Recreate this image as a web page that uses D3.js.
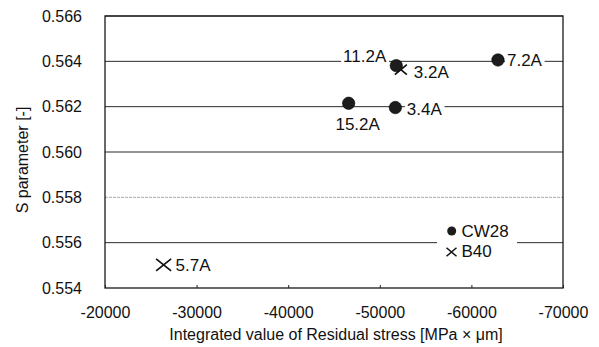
<!DOCTYPE html>
<html>
<head>
<meta charset="utf-8">
<script src="https://cdn.jsdelivr.net/npm/d3@7"></script>
<style>
  body { margin: 0; background: #fff; }
  text { font-family: "Liberation Sans", Arial, sans-serif; fill: #111; }
</style>
</head>
<body>
<svg id="chart" width="599" height="347"></svg>
<script>
// CW28 samples (filled circles)
const cw28Labels = ["11.2A", "7.2A", "15.2A", "3.4A"];
const cw28X = [-51800, -62900, -46600, -51700];
const cw28Y = [0.56381, 0.56406, 0.56215, 0.56196];

// B40 samples (crosses)
const b40Labels = ["3.2A", "5.7A"];
const b40X = [-52300, -26400];
const b40Y = [0.56363, 0.55502];

const xTicks = [-20000, -30000, -40000, -50000, -60000, -70000];
const yTicks = [0.554, 0.556, 0.558, 0.560, 0.562, 0.564, 0.566];

const FONT = "Liberation Sans, Arial, sans-serif";
const svg = d3.select("#chart");
const margin = { left: 105, right: 36, top: 16, bottom: 59 };
const W = 599, H = 347;
const x = d3.scaleLinear().domain([-20000, -70000]).range([margin.left, W - margin.right]);
const y = d3.scaleLinear().domain([0.554, 0.566]).range([H - margin.bottom, margin.top]);

// horizontal gridlines
const isLight = d => Math.abs(d - 0.558) < 1e-9;
svg.append("g").selectAll("line").data(yTicks.slice(1)).join("line")
  .attr("x1", x(-20000)).attr("x2", x(-70000))
  .attr("y1", d => y(d)).attr("y2", d => y(d))
  .attr("stroke", d => isLight(d) ? "#aaa" : "#2a2a2a")
  .attr("stroke-width", 1)
  .attr("stroke-dasharray", d => isLight(d) ? "3,1" : null);

// plot frame
svg.append("rect")
  .attr("x", x(-20000)).attr("y", y(0.566))
  .attr("width", x(-70000) - x(-20000)).attr("height", y(0.554) - y(0.566))
  .attr("fill", "none").attr("stroke", "#1a1a1a").attr("stroke-width", 1.3);

// axes
const xAxis = d3.axisBottom(x).tickValues(xTicks).tickSize(-3).tickPadding(19).tickFormat(d => String(d));
const gx = svg.append("g").attr("transform", `translate(0,${y(0.554)})`).call(xAxis);
gx.select(".domain").remove();
gx.selectAll("line").attr("stroke", "#222");
gx.selectAll("text").attr("font-size", 16).style("font-family", FONT).attr("fill", "#111");

const yAxis = d3.axisLeft(y).tickValues(yTicks).tickSize(0).tickPadding(23).tickFormat(d3.format(".3f"));
const gy = svg.append("g").attr("transform", `translate(${x(-20000)},0)`).call(yAxis);
gy.select(".domain").remove();
gy.selectAll("text").attr("font-size", 16).style("font-family", FONT).attr("fill", "#111");

// axis titles
svg.append("text").attr("x", 336).attr("y", 340).attr("text-anchor", "middle")
  .attr("font-size", 16).text("Integrated value of Residual stress [MPa × μm]");
svg.append("text").attr("transform", "translate(28,160) rotate(-90)").attr("text-anchor", "middle")
  .attr("font-size", 16).text("S parameter [-]");

// point labels with white backing over gridlines
const labelPos = {
  "11.2A": { dx: -10, dy: -4, anchor: "end" },
  "7.2A":  { dx: 9, dy: 6.5, anchor: "start" },
  "15.2A": { dx: 9, dy: 27, anchor: "middle" },
  "3.4A":  { dx: 11.5, dy: 7, anchor: "start" },
  "3.2A":  { dx: 13, dy: 8, anchor: "start" },
  "5.7A":  { dx: 12, dy: 6, anchor: "start" }
};
function addLabel(name, px, py) {
  const p = labelPos[name];
  const t = svg.append("text").attr("x", px + p.dx).attr("y", py + p.dy)
    .attr("text-anchor", p.anchor).attr("font-size", 17).text(name);
  const b = t.node().getBBox();
  svg.insert("rect", function () { return t.node(); })
    .attr("x", b.x - 2).attr("y", b.y + 2).attr("width", b.width + 4).attr("height", b.height - 4)
    .attr("fill", "#fff");
}

const cw = cw28X.map((v, i) => ({ x: v, y: cw28Y[i], label: cw28Labels[i] }));
const b40 = b40X.map((v, i) => ({ x: v, y: b40Y[i], label: b40Labels[i] }));

cw.forEach(d => addLabel(d.label, x(d.x), y(d.y)));
b40.forEach(d => addLabel(d.label, x(d.x), y(d.y)));

// cross marker path (half width hw, half height hh)
const crossPath = (hw, hh) => `M${-hw},${-hh}L${hw},${hh}M${-hw},${hh}L${hw},${-hh}`;

svg.append("g").selectAll("path").data(b40).join("path")
  .attr("transform", d => `translate(${x(d.x)},${y(d.y)})`)
  .attr("d", d => d.label === "5.7A" ? crossPath(7.5, 6) : crossPath(6, 5))
  .attr("fill", "none").attr("stroke", "#111").attr("stroke-width", 1.7);

svg.append("g").selectAll("circle").data(cw).join("circle")
  .attr("cx", d => x(d.x)).attr("cy", d => y(d.y)).attr("r", 6.2)
  .attr("fill", "#1c1c1c").attr("stroke", "#000").attr("stroke-width", 0.6);

// legend
const lg = svg.append("g").attr("transform", "translate(437,222)");
lg.append("rect").attr("width", 80).attr("height", 40).attr("fill", "#fff");
lg.append("circle").attr("cx", 14.7).attr("cy", 9).attr("r", 4.5).attr("fill", "#1c1c1c");
lg.append("text").attr("x", 24.5).attr("y", 14.7).attr("font-size", 17).text("CW28");
lg.append("path").attr("transform", "translate(14.5,30)").attr("d", crossPath(5, 4.3))
  .attr("fill", "none").attr("stroke", "#111").attr("stroke-width", 1.5);
lg.append("text").attr("x", 24.5).attr("y", 35).attr("font-size", 17).text("B40");
</script>
</body>
</html>
